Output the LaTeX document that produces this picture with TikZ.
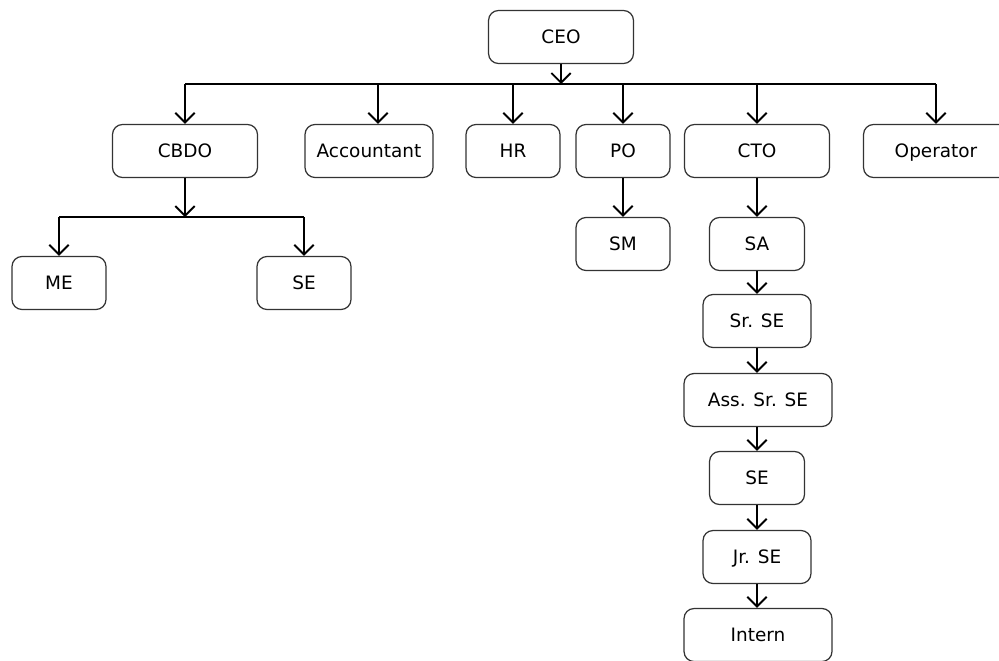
\documentclass[tikz,border=0pt]{standalone}
\usepackage{fontspec}
\setmainfont{DejaVu Sans}
\usetikzlibrary{arrows.meta}
\tikzset{
	post/.style={draw=black!80, line width=0.7pt, rounded corners=0.2cm, minimum height=1.06cm, inner sep=0pt, text depth=0pt, font=\fontsize{10.5}{12}\selectfont},
	link/.style={line width=1.1pt, -{Straight Barb[length=5.5pt,width=11pt]}},
	wire/.style={line width=1.1pt}
}

\begin{document}
\begin{tikzpicture}[x=0.02cm, y=-0.02cm]
			%%%%% START %%%%%
			\useasboundingbox (0, 0) rectangle (999, 660);
			
			\node[post, minimum width=2.9cm] (ceo) at (561, 37) {CEO};
			
			\node[post, minimum width=2.9cm] (cbdo) at (185, 151) {CBDO};
			\node[post, minimum width=2.56cm] (acct) at (369, 151) {Accountant};
			\node[post, minimum width=1.88cm] (hr) at (513, 151) {HR};
			\node[post, minimum width=1.88cm] (po) at (623, 151) {PO};
			\node[post, minimum width=2.9cm] (cto) at (757, 151) {CTO};
			\node[post, minimum width=2.9cm] (oper) at (936, 151) {Operator};
			
			\node[post, minimum width=1.88cm] (me) at (59, 283) {ME};
			\node[post, minimum width=1.88cm] (sel) at (304, 283) {SE};
			\node[post, minimum width=1.88cm] (sm) at (623, 244) {SM};
			
			\node[post, minimum width=1.9cm] (sa) at (757, 244) {SA};
			\node[post, minimum width=2.16cm] (srse) at (757, 321) {Sr. SE};
			\node[post, minimum width=2.96cm] (asrse) at (758, 400) {Ass. Sr. SE};
			\node[post, minimum width=1.9cm] (se) at (757, 478) {SE};
			\node[post, minimum width=2.16cm] (jrse) at (757, 557) {Jr. SE};
			\node[post, minimum width=2.96cm] (intern) at (758, 635) {Intern};
			
			\coordinate (bus) at (561, 84);
			\coordinate (cbus) at (185, 217);
			\coordinate (acctin) at ([xshift=0.18cm]acct.north);
			
			\draw[link] (ceo.south) -- (bus);
			\draw[wire] (bus -| cbdo.north) -- (bus -| oper.north);
			\draw[link] (bus -| cbdo.north) -- (cbdo.north);
			\draw[link] (bus -| acctin) -- (acctin);
			\draw[link] (bus -| hr.north) -- (hr.north);
			\draw[link] (bus -| po.north) -- (po.north);
			\draw[link] (bus -| cto.north) -- (cto.north);
			\draw[link] (bus -| oper.north) -- (oper.north);
			
			\draw[link] (cbdo.south) -- (cbus);
			\draw[wire] (cbus -| me.north) -- (cbus -| sel.north);
			\draw[link] (cbus -| me.north) -- (me.north);
			\draw[link] (cbus -| sel.north) -- (sel.north);
			
			\draw[link] (po) -- (sm);
			
			\draw[link] (cto) -- (sa);
			\draw[link] (sa) -- (srse);
			\draw[link] (srse) -- (asrse.north -| srse.south);
			\draw[link] (asrse.south -| se.north) -- (se);
			\draw[link] (se) -- (jrse);
			\draw[link] (jrse) -- (intern.north -| jrse.south);
			%%%%% END %%%%%
\end{tikzpicture}
\end{document}
